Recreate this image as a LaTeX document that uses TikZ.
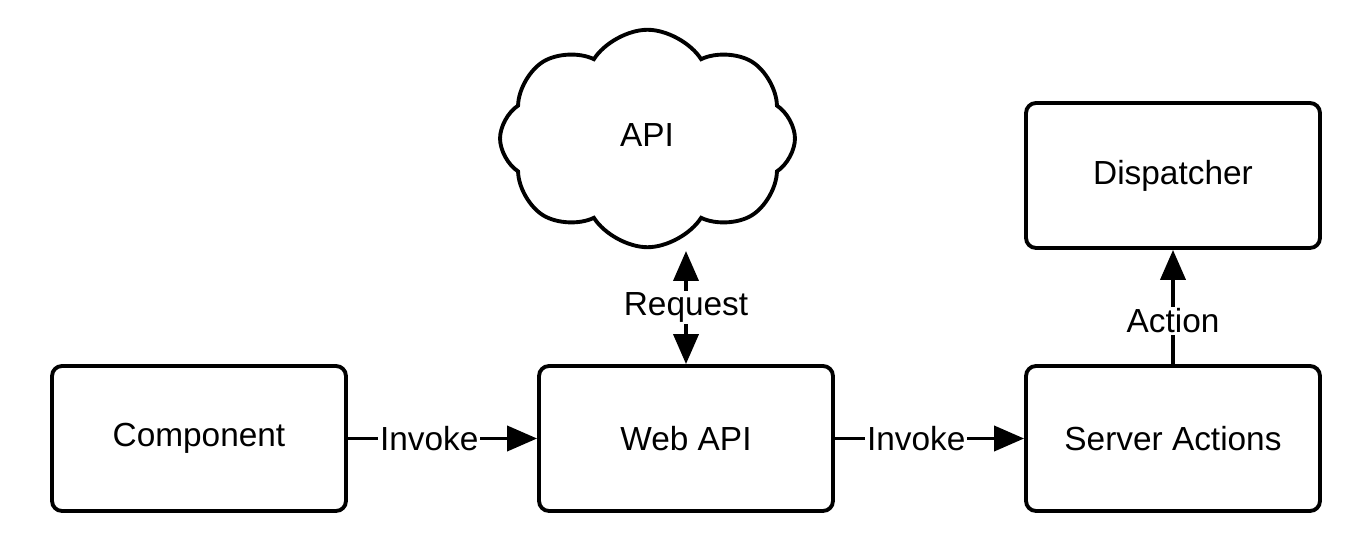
\documentclass[tikz,border=0pt]{standalone}
\usepackage{fontspec}
\setmainfont{Liberation Sans}
\usetikzlibrary{arrows.meta,positioning,shapes.symbols,calc}

\begin{document}
\begin{tikzpicture}[x=0.02cm, y=-0.02cm, line width=2.2pt, font=\fontsize{19}{22}\selectfont,
  >={Triangle[length=0.6cm, width=0.5cm]},
  box/.style={rectangle, draw, rounded corners=0.2cm, minimum width=5.88cm, minimum height=2.9cm},
  blob/.style={cloud, draw, cloud puffs=8, cloud puff arc=115, aspect=1.35, minimum width=5.9cm, minimum height=4.35cm},
  lbl/.style={fill=white, inner sep=1pt}]
\useasboundingbox (0,0) rectangle (1363,553);
\node[box] (comp) at (199,438.5) {Component};
\node[box] (web) at (686,438.5) {Web API};
\node[box] (srv) at (1173,438.5) {Server Actions};
\node[box] (disp) at (1173,175.5) {Dispatcher};
\node[blob] (api) at (647.5,138.5) {};
\node at (647,135) {API};
\coordinate (apib) at (686,251);
\draw[->] (comp) -- node[lbl, pos=0.43] {Invoke} (web);
\draw[->] (web) -- node[lbl, pos=0.43] {Invoke} (srv);
\draw[->] (srv) -- node[lbl, pos=0.38] {Action} (disp);
\draw[<->] (web.north) -- node[lbl] {Request} (apib);
\end{tikzpicture}
\end{document}
